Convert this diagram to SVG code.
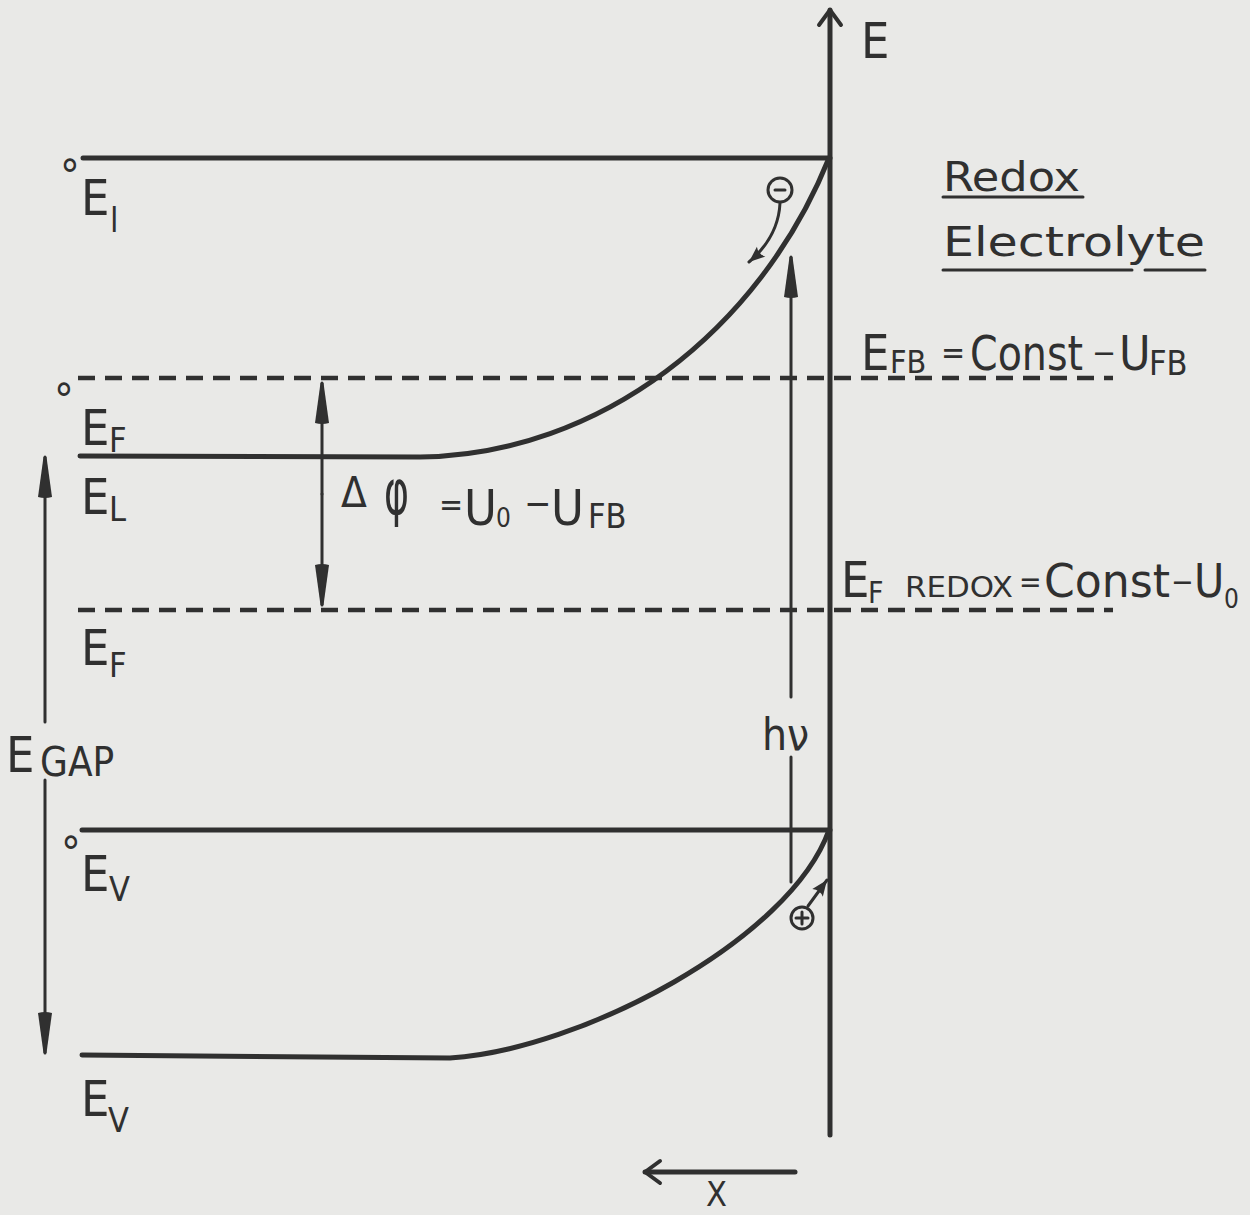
<svg xmlns="http://www.w3.org/2000/svg" width="1250" height="1215" viewBox="0 0 1250 1215">
<defs>
<style>
.ink{stroke:#303030;fill:none;stroke-linecap:round;stroke-linejoin:round}
.solid{stroke-width:5}
.dash{stroke-width:4.5;stroke-dasharray:17 10;stroke-linecap:butt}
.thin{stroke-width:3}
.txt{font-family:"DejaVu Sans Condensed","DejaVu Sans",sans-serif;fill:#303030}
.big{font-size:50px}
.sub{font-size:34px}
.deg{font-size:44px}
</style>
<marker id="spike" markerUnits="userSpaceOnUse" markerWidth="50" markerHeight="24" viewBox="-42 -12 46 24" refX="0" refY="0" orient="auto">
<path d="M-40,-7 Q-42,0 -40,7 L0,1.5 L0,-1.5 Z" fill="#303030"/>
</marker>
<marker id="small" markerUnits="userSpaceOnUse" markerWidth="24" markerHeight="20" viewBox="-18 -10 20 20" refX="0" refY="0" orient="auto">
<path d="M-16,-6.5 L0,0 L-16,6.5 Q-12,0 -16,-6.5 Z" fill="#303030"/>
</marker>
<marker id="chev" markerUnits="userSpaceOnUse" markerWidth="30" markerHeight="34" viewBox="-22 -17 26 34" refX="0" refY="0" orient="auto">
<path d="M-15,-11 L0,0 L-15,11" fill="none" stroke="#303030" stroke-width="4" stroke-linecap="round" stroke-linejoin="round"/>
</marker>
</defs>
<rect width="1250" height="1215" fill="#e9e9e7"/>

<g id="connectors">
<line class="ink solid" x1="830" y1="1135" x2="830" y2="10" marker-end="url(#chev)"/>
<line class="ink solid" x1="795" y1="1172" x2="645" y2="1172" marker-end="url(#chev)"/>
<line class="ink thin" x1="322" y1="494" x2="322" y2="383" marker-end="url(#spike)"/>
<line class="ink thin" x1="322" y1="494" x2="322" y2="605" marker-end="url(#spike)"/>
<line class="ink thin" x1="45" y1="722" x2="45" y2="457" marker-end="url(#spike)"/>
<line class="ink thin" x1="45" y1="780" x2="45" y2="1053" marker-end="url(#spike)"/>
<line class="ink thin" x1="791" y1="697" x2="791" y2="257" marker-end="url(#spike)"/>
<line class="ink thin" x1="791" y1="757" x2="791" y2="882"/>
<path class="ink thin" d="M780,203 C779,225 770,244 749,262" marker-end="url(#small)"/>
<path class="ink thin" d="M808,906 L827,880" marker-end="url(#small)"/>
</g>

<g id="vacuum-level">
<line class="ink solid" x1="83" y1="158" x2="830" y2="158"/>
<text class="txt deg" x="60" y="191">°</text>
<text class="txt big" x="81" y="215">E<tspan class="sub" x="110" y="232" font-size="40">l</tspan></text>
</g>

<g id="flatband-fermi">
<line class="ink dash" x1="78" y1="378" x2="1113" y2="378"/>
<text class="txt deg" x="54" y="415">°</text>
<text class="txt big" x="81" y="445">E<tspan class="sub" x="109" y="452">F</tspan></text>
</g>

<g id="conduction-band">
<path class="ink solid" d="M80,456 L420,457 C600,455 760,330 829,158"/>
<text class="txt big" x="81" y="514">E<tspan class="sub" x="109" y="521">L</tspan></text>
</g>

<g id="delta-phi">
<text class="txt" font-size="42" x="341" y="507">Δ</text>
<text class="txt" font-size="62" x="384" y="514" textLength="25" lengthAdjust="spacingAndGlyphs">φ</text>
<text class="txt big" x="439" y="525"><tspan font-size="32" y="516">=</tspan><tspan x="464" y="525">U</tspan><tspan x="496" y="527" font-size="26">0</tspan><tspan x="524" y="516" font-size="36">−</tspan><tspan x="551" y="525">U</tspan><tspan x="588" y="528" font-size="34">FB</tspan></text>
</g>

<g id="redox-fermi">
<line class="ink dash" x1="78" y1="610" x2="1113" y2="610"/>
<text class="txt big" x="81" y="665">E<tspan x="109" y="677" font-size="34">F</tspan></text>
</g>

<g id="gap">
<text class="txt big" x="6" y="772">E<tspan x="40" y="776" font-size="40">GAP</tspan></text>
</g>

<g id="valence-band">
<line class="ink solid" x1="82" y1="830" x2="830" y2="830"/>
<text class="txt deg" x="61" y="868">°</text>
<text class="txt big" x="81" y="891">E<tspan x="109" y="901" font-size="34">V</tspan></text>
<path class="ink solid" d="M82,1055 L450,1058 C580,1050 790,940 829,830"/>
<text class="txt big" x="81" y="1116">E<tspan x="108" y="1132" font-size="34">V</tspan></text>
</g>

<g id="electron">
<circle class="ink thin" cx="780" cy="190" r="12"/>
<line class="ink thin" x1="775" y1="190" x2="785" y2="190"/>
</g>

<g id="hole">
<circle class="ink thin" cx="802" cy="918" r="11"/>
<line class="ink thin" x1="796" y1="918" x2="808" y2="918"/>
<line class="ink thin" x1="802" y1="912" x2="802" y2="924"/>
</g>

<g id="photon">
<text class="txt" font-size="44" x="762" y="750">hν</text>
</g>

<g id="axis-labels">
<text class="txt big" x="861" y="58">E</text>
<text class="txt" font-size="34" x="706" y="1206">X</text>
</g>

<g id="electrolyte-label">
<text class="txt" font-size="40" x="943" y="191" textLength="137" lengthAdjust="spacingAndGlyphs">Redox</text>
<line class="ink thin" x1="943" y1="197" x2="1083" y2="197"/>
<text class="txt" font-size="40" x="943" y="256" textLength="262" lengthAdjust="spacingAndGlyphs">Electrolyte</text>
<line class="ink thin" x1="943" y1="270" x2="1132" y2="270"/>
<line class="ink thin" x1="1145" y1="270" x2="1205" y2="270"/>
</g>

<g id="efb-label">
<text class="txt big" x="861" y="370">E<tspan x="890" y="373" font-size="32">FB</tspan><tspan x="941" y="364" font-size="32">=</tspan><tspan x="970" y="370" font-size="48" textLength="113" lengthAdjust="spacingAndGlyphs">Const</tspan><tspan x="1092" y="364" font-size="32">−</tspan><tspan x="1119" y="370" font-size="48">U</tspan><tspan x="1149" y="375" font-size="34">FB</tspan></text>
</g>

<g id="efredox-label">
<text class="txt big" x="841" y="597" font-size="46">E<tspan x="868" y="603" font-size="30">F</tspan><tspan x="905" y="597" font-size="28" textLength="108" lengthAdjust="spacingAndGlyphs">REDOX</tspan><tspan x="1019" y="592" font-size="30">=</tspan><tspan x="1044" y="597" font-size="46" textLength="126" lengthAdjust="spacingAndGlyphs">Const</tspan><tspan x="1171" y="592" font-size="30">−</tspan><tspan x="1194" y="597" font-size="46">U</tspan><tspan x="1224" y="608" font-size="26">0</tspan></text>
</g>
</svg>
